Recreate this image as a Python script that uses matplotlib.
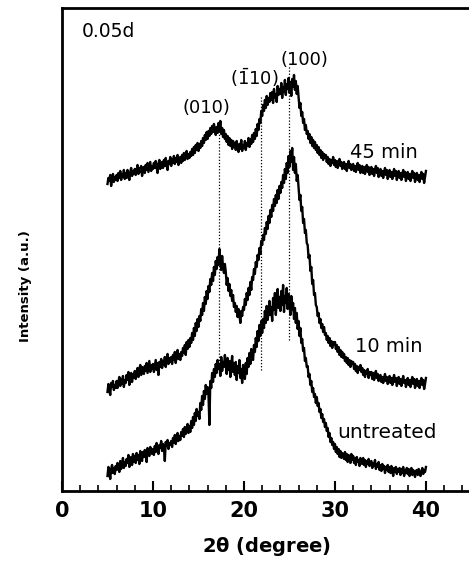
#   plot.py ~~
#
#   XRD patterns (0.05d sample) for untreated, 10 min and 45 min treatments.
#   Intensities are read off the reference figure, arbitrary units with the
#   traces already stacked, one value every 0.1 degree.

import matplotlib
matplotlib.use("Agg")
import matplotlib.pyplot as pyplot
import numpy as np

###

two_theta = np.linspace(5.0, 40.0, 351)

untreated = [
    15, 24, 19, 12, 22, 26, 18, 23, 17, 25,
    21, 28, 24, 19, 30, 22, 27, 33, 23, 29,
    25, 32, 28, 36, 24, 30, 34, 26, 37, 29,
    35, 28, 38, 31, 36, 27, 40, 33, 30, 39,
    34, 41, 36, 29, 43, 38, 35, 44, 40, 37,
    42, 36, 45, 39, 48, 41, 37, 46, 43, 50,
    40, 47, 44, 30, 49, 45, 51, 42, 48, 46,
    50, 44, 53, 48, 56, 47, 52, 58, 50, 55,
    51, 59, 55, 62, 54, 64, 57, 60, 67, 58,
    65, 59, 70, 63, 74, 66, 78, 70, 82, 75,
    79, 72, 88, 81, 95, 86, 100, 92, 106, 97,
    104, 96, 66, 110, 103, 118, 109, 122, 114, 127,
    118, 131, 122, 127, 115, 134, 120, 129, 124, 136,
    128, 117, 133, 121, 130, 114, 126, 135, 119, 128,
    116, 129, 111, 125, 118, 131, 113, 122, 108, 126,
    121, 112, 128, 117, 133, 124, 138, 127, 142, 134,
    131, 146, 139, 153, 144, 160, 150, 166, 155, 170,
    158, 172, 163, 180, 168, 185, 171, 178, 190, 176,
    184, 170, 193, 181, 198, 176, 190, 202, 183, 194,
    180, 200, 186, 206, 179, 195, 188, 203, 182, 197,
    190, 176, 195, 181, 188, 172, 183, 168, 178, 162,
    170, 155, 163, 148, 152, 140, 143, 130, 133, 124,
    125, 114, 117, 106, 110, 99, 103, 94, 97, 88,
    94, 85, 88, 79, 82, 73, 77, 69, 72, 64,
    68, 60, 63, 54, 58, 49, 53, 46, 49, 42,
    47, 39, 44, 37, 42, 34, 40, 33, 38, 36,
    32, 39, 31, 37, 29, 36, 33, 28, 37, 31,
    35, 28, 33, 26, 34, 29, 31, 25, 33, 28,
    27, 33, 26, 31, 24, 30, 27, 32, 25, 29,
    30, 23, 28, 25, 31, 22, 27, 24, 29, 21,
    26, 20, 27, 22, 25, 18, 24, 21, 26, 19,
    24, 18, 25, 20, 15, 23, 19, 24, 17, 22,
    19, 23, 16, 22, 18, 24, 15, 21, 18, 23,
    17, 22, 15, 20, 23, 16, 21, 18, 14, 20,
    21, 16, 22, 18, 15, 20, 23, 17, 21, 19,
    24,
]

min10 = [
    99, 107, 102, 96, 108, 104, 110, 101, 106, 103,
    110, 103, 109, 114, 105, 112, 107, 115, 104, 111,
    108, 116, 111, 119, 106, 114, 118, 109, 117, 113,
    120, 112, 118, 123, 114, 121, 126, 116, 124, 119,
    117, 125, 120, 128, 118, 124, 130, 119, 126, 122,
    127, 119, 125, 131, 121, 128, 116, 129, 124, 132,
    123, 130, 126, 134, 124, 131, 137, 127, 133, 129,
    134, 127, 136, 131, 139, 128, 135, 141, 132, 137,
    131, 139, 135, 143, 138, 146, 136, 149, 142, 151,
    144, 153, 148, 158, 151, 163, 155, 168, 160, 172,
    164, 175, 170, 182, 176, 188, 180, 194, 187, 200,
    192, 205, 199, 212, 206, 218, 210, 224, 216, 230,
    222, 234, 226, 242, 230, 221, 235, 224, 218, 227,
    219, 206, 213, 200, 207, 195, 201, 190, 196, 184,
    188, 179, 185, 174, 182, 176, 168, 180, 175, 184,
    181, 192, 186, 198, 191, 203, 196, 209, 201, 214,
    211, 222, 217, 229, 224, 236, 231, 243, 237, 250,
    246, 256, 251, 263, 257, 269, 262, 275, 268, 281,
    274, 286, 280, 292, 285, 296, 288, 301, 292, 305,
    298, 309, 303, 316, 308, 322, 312, 328, 318, 335,
    324, 340, 329, 343, 321, 334, 318, 327, 310, 316,
    303, 291, 296, 280, 284, 268, 272, 258, 261, 248,
    246, 233, 236, 220, 224, 207, 211, 196, 198, 186,
    184, 175, 178, 168, 172, 163, 167, 159, 164, 156,
    158, 151, 155, 148, 153, 145, 150, 143, 149, 146,
    149, 142, 146, 139, 144, 136, 141, 134, 139, 133,
    137, 130, 134, 128, 133, 126, 131, 124, 130, 127,
    129, 122, 127, 120, 125, 118, 124, 121, 126, 119,
    123, 116, 121, 114, 120, 117, 122, 113, 119, 116,
    119, 112, 118, 111, 116, 120, 113, 117, 110, 115,
    116, 109, 114, 108, 113, 117, 110, 114, 107, 112,
    115, 108, 113, 106, 112, 116, 109, 113, 105, 111,
    114, 107, 112, 105, 110, 115, 108, 111, 104, 109,
    113, 106, 111, 104, 110, 114, 107, 112, 103, 108,
    112, 105, 110, 103, 109, 113, 106, 111, 102, 107,
    113,
]

min45 = [
    307, 313, 310, 316, 305, 312, 317, 309, 314, 311,
    316, 310, 318, 313, 320, 311, 317, 314, 321, 312,
    318, 313, 321, 316, 311, 319, 323, 315, 320, 317,
    322, 316, 320, 326, 317, 323, 319, 325, 315, 321,
    324, 318, 326, 321, 328, 319, 324, 329, 320, 325,
    322, 328, 323, 330, 324, 318, 327, 331, 322, 326,
    329, 323, 331, 325, 333, 326, 321, 330, 327, 334,
    325, 332, 328, 335, 327, 333, 329, 336, 326, 331,
    334, 328, 336, 330, 338, 331, 335, 340, 332, 337,
    333, 339, 335, 342, 336, 344, 338, 346, 341, 348,
    340, 347, 343, 350, 345, 353, 348, 356, 351, 359,
    352, 360, 355, 363, 357, 365, 359, 367, 361, 356,
    364, 358, 368, 360, 370, 357, 363, 354, 361, 352,
    357, 349, 355, 346, 353, 345, 351, 342, 350, 344,
    348, 341, 350, 343, 339, 347, 342, 351, 340, 346,
    343, 350, 341, 348, 345, 353, 344, 352, 347, 356,
    349, 358, 352, 362, 355, 367, 361, 372, 368, 380,
    375, 386, 380, 391, 383, 395, 386, 393, 389, 398,
    391, 399, 388, 402, 393, 397, 389, 405, 396, 402,
    397, 408, 393, 404, 399, 411, 396, 407, 402, 413,
    398, 409, 395, 412, 404, 416, 401, 410, 397, 405,
    394, 383, 388, 375, 379, 368, 372, 361, 366, 357,
    360, 352, 357, 348, 354, 345, 351, 343, 349, 341,
    346, 338, 344, 336, 341, 333, 339, 331, 337, 333,
    336, 329, 334, 327, 332, 325, 331, 328, 334, 326,
    331, 324, 330, 323, 328, 332, 325, 329, 322, 327,
    329, 322, 327, 320, 326, 330, 323, 327, 321, 325,
    327, 320, 325, 319, 324, 328, 321, 326, 318, 323,
    325, 318, 324, 317, 322, 326, 319, 324, 316, 321,
    324, 317, 322, 315, 321, 325, 318, 323, 314, 320,
    322, 315, 320, 313, 319, 323, 316, 321, 312, 318,
    321, 314, 319, 312, 318, 322, 315, 320, 311, 317,
    320, 313, 318, 311, 317, 321, 314, 319, 310, 316,
    319, 312, 317, 310, 316, 320, 313, 318, 309, 315,
    318, 311, 316, 309, 315, 319, 312, 317, 308, 314,
    320,
]

# reflections marked with dotted lines: position, top and bottom of the line
peak_labels = ["(010)", r"($\bar{1}$10)", "(100)"]
peak_pos = [17.3, 21.9, 25.0]
peak_top = [366, 394, 426]
peak_bottom = [118, 121, 151]

###

def main():

    pyplot.rcParams["mathtext.fontset"] = "dejavusans"

    fig = pyplot.figure(figsize=(4.69, 5.61), dpi=100)
    ax = fig.add_axes([0.1322, 0.1248, 0.873, 0.861])

    for series in (untreated, min10, min45):
        ax.plot(two_theta, series, color="black", linewidth=1.7)

    ax.vlines(peak_pos, peak_bottom, peak_top, colors="black",
        linestyles=(0, (1, 1.5)), linewidth=0.9)

  # Peak labels and sample names.

    ax.text(15.9, 383, peak_labels[0], ha="center", va="center", fontsize=13)
    ax.text(21.2, 413, peak_labels[1], ha="center", va="center", fontsize=13)
    ax.text(26.7, 431, peak_labels[2], ha="center", va="center", fontsize=13)

    ax.text(31.6, 338, "45 min", ha="left", va="center", fontsize=14)
    ax.text(32.2, 144, "10 min", ha="left", va="center", fontsize=14)
    ax.text(30.2, 58, "untreated", ha="left", va="center", fontsize=14.5)
    ax.text(2.2, 459, "0.05d", ha="left", va="center", fontsize=13.5)

    ax.set_xlim(0, 45)
    ax.set_ylim(0, 483)
    ax.set_xticks([0, 10, 20, 30, 40])
    ax.set_xticks(np.arange(0, 46, 2), minor=True)
    ax.set_yticks([])
    ax.tick_params(axis="x", which="major", direction="in", length=7,
        width=1.5, pad=7, labelsize=15)
    ax.tick_params(axis="x", which="minor", direction="in", length=4,
        width=1.2)
    for lab in ax.get_xticklabels():
        lab.set_fontweight("bold")
    for spine in ax.spines.values():
        spine.set_linewidth(2.0)

    ax.set_xlabel(r"2$\mathbf{\theta}$ (degree)", fontsize=14,
        fontweight="bold", labelpad=10)
    ax.set_ylabel("Intensity (a.u.)", fontsize=9.5, fontweight="bold")
    ax.yaxis.set_label_coords(-0.073, 0.424)

    fig.savefig("out.png", dpi=100)

###

if __name__ == "__main__":
    main()
